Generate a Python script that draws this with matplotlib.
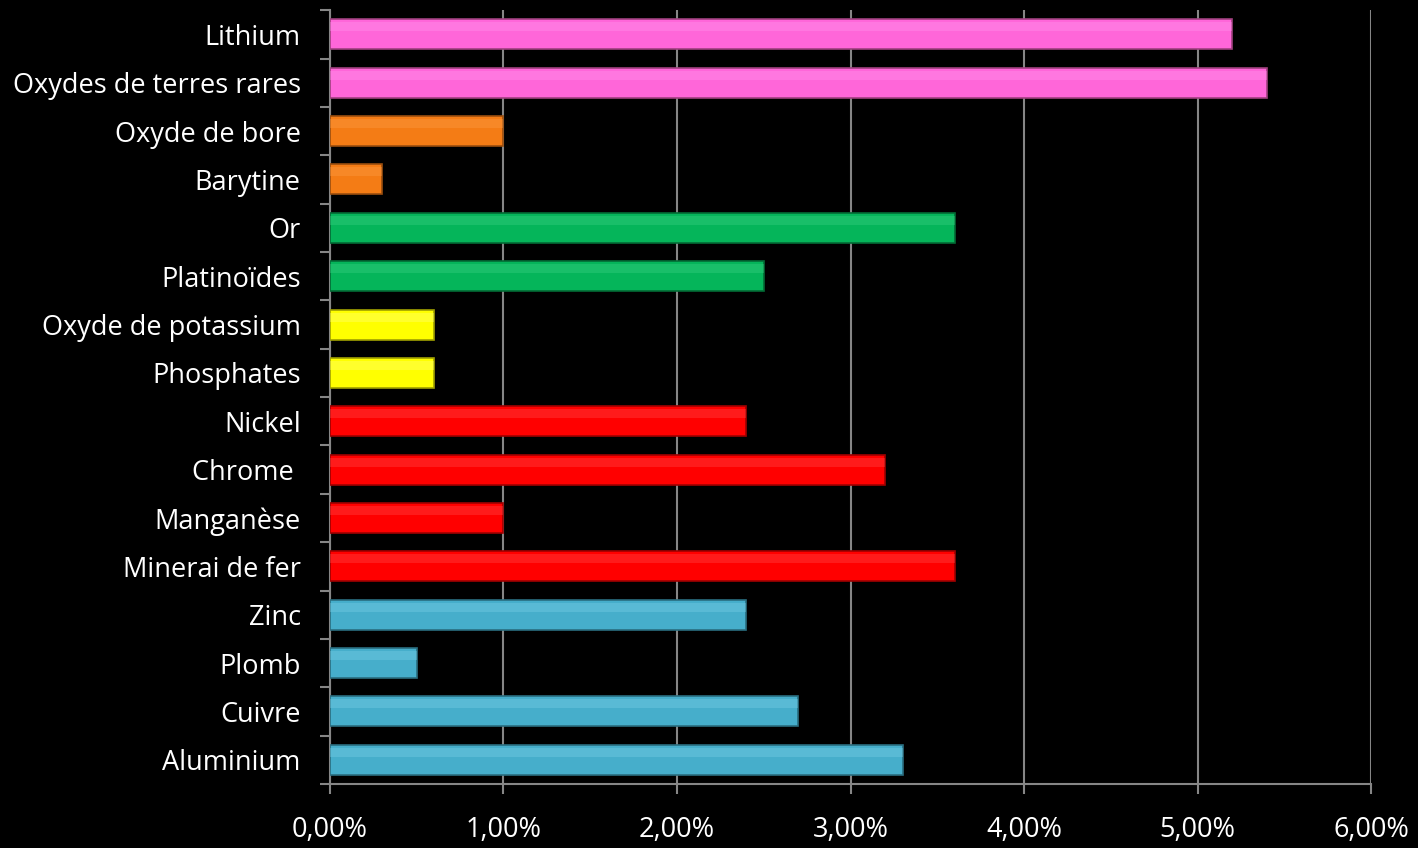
import matplotlib.pyplot as plt
import matplotlib.ticker as mticker
import numpy as np

# data (top to bottom as shown)
minerals = ['Lithium', 'Oxydes de terres rares', 'Oxyde de bore', 'Barytine', 'Or',
            'Platinoïdes', 'Oxyde de potassium', 'Phosphates', 'Nickel', 'Chrome ',
            'Manganèse', 'Minerai de fer', 'Zinc', 'Plomb', 'Cuivre', 'Aluminium']
values = [5.2, 5.4, 1.0, 0.3, 3.6, 2.5, 0.6, 0.6, 2.4, 3.2, 1.0, 3.6, 2.4, 0.5, 2.7, 3.3]
groups = ['pink', 'pink', 'orange', 'orange', 'green', 'green', 'yellow', 'yellow',
          'red', 'red', 'red', 'red', 'blue', 'blue', 'blue', 'blue']

fill = {'pink': '#FF66D9', 'orange': '#F47C15', 'green': '#05B55A',
        'yellow': '#FFFF00', 'red': '#FF0000', 'blue': '#46AECB'}
light = {'pink': '#FF99EE', 'orange': '#FFA04A', 'green': '#3FD486',
         'yellow': '#FFFF80', 'red': '#FF5050', 'blue': '#7FD3EA'}
edge = {'pink': '#A0407F', 'orange': '#9A4E0E', 'green': '#036B35',
        'yellow': '#A0A000', 'red': '#A00000', 'blue': '#2A6E80'}

plt.rcParams['font.family'] = ['Open Sans', 'DejaVu Sans']

fig = plt.figure(figsize=(14.18, 8.48), dpi=100, facecolor='black')
ax = fig.add_axes([0.2327, 0.0755, 0.7342, 0.9125], facecolor='black')

y = np.arange(len(minerals))[::-1]
h = 0.62
ax.barh(y, values, height=h, color=[fill[g] for g in groups],
        edgecolor=[edge[g] for g in groups], linewidth=1.2, zorder=3)
# soft highlight on the upper part of each bar for a bevel look
ax.barh(y + h * 0.25, values, height=h * 0.3, color=[light[g] for g in groups],
        linewidth=0, alpha=0.35, zorder=4)

ax.set_xlim(0, 6)
ax.set_ylim(-0.5, len(minerals) - 0.5)
ax.set_xticks(np.arange(0, 7, 1))
ax.xaxis.set_major_formatter(mticker.FuncFormatter(lambda v, p: f'{v:.2f}'.replace('.', ',') + '%'))
ax.set_yticks(y)
ax.set_yticklabels(minerals)
ax.set_yticks(np.arange(-0.5, len(minerals), 1), minor=True)

ax.grid(axis='x', color='#868686', linewidth=1.5, zorder=0)
for s in ['top', 'right']:
    ax.spines[s].set_visible(False)
for s in ['left', 'bottom']:
    ax.spines[s].set_color('#868686')
    ax.spines[s].set_linewidth(1.5)

ax.tick_params(axis='y', which='major', length=0, pad=21, labelsize=19.5, labelcolor='white')
ax.tick_params(axis='y', which='minor', length=7, width=1.5, color='#868686')
ax.tick_params(axis='x', which='major', length=7, width=1.5, color='#868686',
               pad=16, labelsize=19.5, labelcolor='white')

fig.savefig('out.png', dpi=100, facecolor='black')
